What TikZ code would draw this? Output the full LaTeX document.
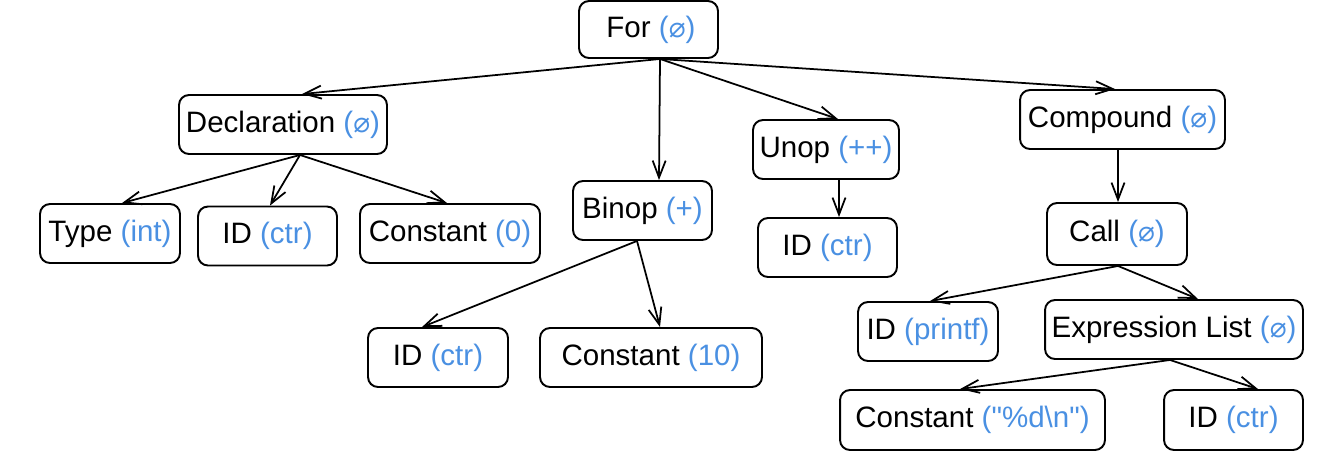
\documentclass[tikz,border=0pt]{standalone}
\usepackage{fontspec}
\setmainfont{Liberation Sans}[Ligatures=TeXOff]
\newfontfamily\symfont{DejaVu Sans}
\usetikzlibrary{arrows.meta}
\definecolor{attrblue}{HTML}{4A90E2}
\newcommand{\attr}[1]{\textcolor{attrblue}{(#1)}}
\newcommand{\noval}{{\symfont\scalebox{0.95}{⌀}}}

\begin{document}
\begin{tikzpicture}[x=0.02cm, y=-0.02cm,
    box/.style={draw, rounded corners=0.2cm, line width=1.1pt, minimum height=1.18cm,
        inner sep=0pt, font=\fontsize{16.8}{20}\selectfont},
    edge/.style={line width=1pt, -{Straight Barb[length=0.34cm,width=0.26cm]}}]
    \useasboundingbox (0,0) rectangle (1324,468);
    % root
    \node[box, minimum width=2.78cm, minimum height=1.14cm] (for) at (648.5,29.5) {\,For \attr{\noval}};
    % children of For
    \node[box, minimum width=4.16cm] (decl) at (283,124.5) {Declaration \attr{\noval}};
    \node[box, minimum width=2.78cm] (binop) at (642.5,210.5) {Binop \attr{+}};
    \node[box, minimum width=2.92cm] (unop) at (826,149.5) {Unop \attr{++}};
    \node[box, minimum width=4.1cm] (comp) at (1122.5,119.5) {Compound \attr{\noval}};
    % declaration
    \node[box, minimum width=2.8cm] (type) at (110,233.5) {Type \attr{int}};
    \node[box, minimum width=2.78cm] (id1) at (267.5,236) {ID \attr{ctr}};
    \node[box, minimum width=3.6cm] (const0) at (450,233.5) {Constant \attr{0}};
    % binop
    \node[box, minimum width=2.8cm] (id2) at (438,357.5) {ID \attr{ctr}};
    \node[box, minimum width=4.44cm] (const10) at (651,357.5) {Constant \attr{10}};
    % unop
    \node[box, minimum width=2.78cm] (id3) at (827.5,247.5) {ID \attr{ctr}};
    % compound
    \node[box, minimum width=2.8cm, minimum height=1.24cm] (call) at (1117,234) {Call \attr{\noval}};
    \node[box, minimum width=2.8cm] (printf) at (928,331.5) {ID \attr{printf}};
    \node[box, minimum width=5.16cm] (exprs) at (1174,329.5) {Expression List \attr{\noval}};
    \node[box, minimum width=5.3cm, minimum height=1.2cm] (cstr) at (972.5,420) {Constant \attr{"\%d\textbackslash n"}};
    \node[box, minimum width=2.78cm, minimum height=1.2cm] (id4) at (1233.5,420) {ID \attr{ctr}};

    \draw[edge] ([xshift=0.23cm]for.south) -- ([xshift=0.38cm]decl.north);
    \draw[edge] ([xshift=0.23cm]for.south) -- ([xshift=0.33cm]binop.north);
    \draw[edge] ([xshift=0.23cm]for.south) -- ([xshift=0.24cm]unop.north);
    \draw[edge] ([xshift=0.23cm]for.south) -- ([xshift=-0.15cm]comp.north);

    \draw[edge] ([xshift=0.34cm]decl.south) -- ([xshift=0.24cm]type.north);
    \draw[edge] ([xshift=0.34cm]decl.south) -- ([xshift=0.05cm]id1.north);
    \draw[edge] ([xshift=0.34cm]decl.south) -- ([xshift=-0.06cm]const0.north);

    \draw[edge] ([xshift=-0.11cm]binop.south) -- ([xshift=-0.32cm]id2.north);
    \draw[edge] ([xshift=-0.11cm]binop.south) -- ([xshift=0.18cm]const10.north);

    \draw[edge] ([xshift=0.26cm]unop.south) -- ([xshift=0.23cm]id3.north);

    \draw[edge] ([xshift=-0.09cm]comp.south) -- ([xshift=0.02cm]call.north);
    \draw[edge] ([xshift=0.02cm]call.south) -- ([xshift=0.04cm]printf.north);
    \draw[edge] ([xshift=0.02cm]call.south) -- ([xshift=0.48cm]exprs.north);
    \draw[edge] ([xshift=-0.08cm]exprs.south) -- ([xshift=-0.25cm]cstr.north);
    \draw[edge] ([xshift=-0.08cm]exprs.south) -- ([xshift=0.49cm]id4.north);
\end{tikzpicture}
\end{document}
